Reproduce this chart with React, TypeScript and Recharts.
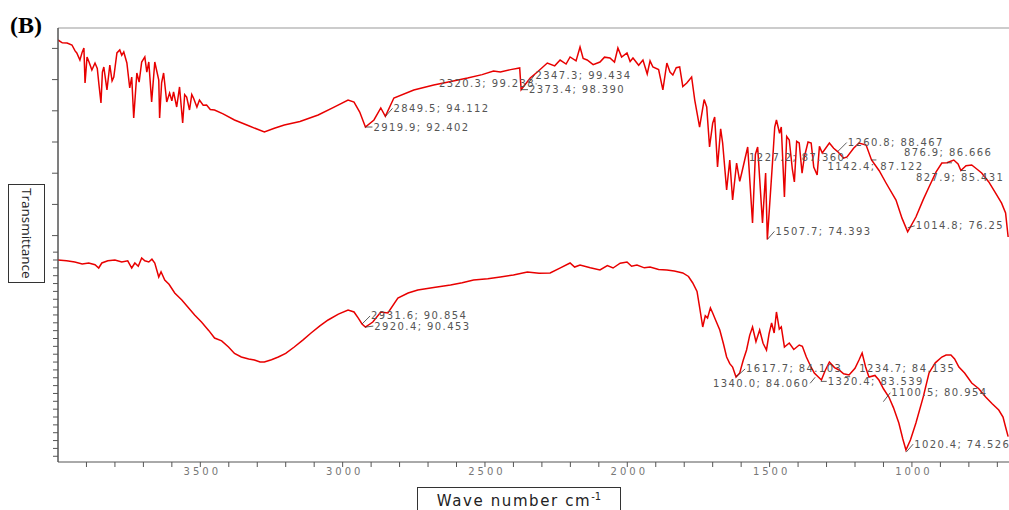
import React from 'react';
import { LineChart, Line, XAxis, YAxis, ReferenceDot, ReferenceLine } from 'recharts';

// [wavenumber cm-1, transmittance %]
const upperSpectrum: [number, number][] = [
  [4000, 106.35], [3985, 105.9], [3968, 105.87], [3951, 105.55], [3940, 104.6], [3934, 104.27],
  [3923, 103.14], [3915, 104.4], [3909, 105.07], [3905, 99.46], [3898, 103.6], [3891, 102.82],
  [3881, 101.54], [3870, 102.66], [3862, 101.8], [3856, 99.14], [3849, 96.25], [3844, 101.2],
  [3839, 102.02], [3828, 98.34], [3818, 102.34], [3810, 99.8], [3804, 100.42], [3793, 104.27],
  [3783, 104.75], [3776, 103.9], [3769, 104.43], [3758, 102.66], [3748, 98.66], [3741, 100.4],
  [3734, 93.85], [3723, 101.06], [3715, 99.6], [3706, 102.82], [3695, 103.63], [3688, 101.2],
  [3681, 102.82], [3671, 96.41], [3660, 102.82], [3646, 99.94], [3643, 93.85], [3636, 99.5],
  [3629, 101.06], [3618, 96.41], [3608, 97.85], [3600, 96.6], [3594, 98.02], [3583, 95.61],
  [3573, 98.82], [3562, 93.05], [3555, 97.6], [3548, 97.21], [3538, 95.13], [3530, 97.6],
  [3524, 97.05], [3512, 95.6], [3503, 96.73], [3490, 95.9], [3478, 95.93], [3465, 95.2],
  [3450, 95.13], [3420, 94.5], [3380, 93.53], [3330, 92.6], [3275, 91.6], [3240, 92.2],
  [3205, 92.73], [3150, 93.3], [3086, 94.33], [3030, 95.6], [2981, 96.73], [2960, 96.41],
  [2940, 94.8], [2920, 92.4], [2890, 93.53], [2866, 95.45], [2850, 94.11], [2820, 97.05],
  [2750, 98.34], [2680, 99.14], [2620, 99.7], [2561, 100.26], [2510, 100.8], [2470, 101.38],
  [2446, 101.22], [2410, 101.6], [2378, 101.86], [2373, 98.39], [2341, 100.26], [2316, 101.22],
  [2281, 102.66], [2255, 102.2], [2236, 103.14], [2215, 102.5], [2201, 103.63], [2180, 103.0],
  [2166, 105.23], [2155, 103.4], [2141, 103.14], [2120, 102.4], [2096, 102.82], [2080, 103.6],
  [2061, 103.47], [2045, 102.8], [2033, 105.07], [2020, 103.6], [2001, 104.27], [1990, 102.9],
  [1980, 103.47], [1960, 102.3], [1945, 103.14], [1930, 100.9], [1920, 103.0], [1910, 102.02],
  [1890, 101.6], [1875, 98.34], [1861, 102.66], [1850, 101.2], [1840, 100.74], [1828, 101.9],
  [1816, 102.02], [1805, 98.9], [1791, 99.46], [1774, 100.42], [1763, 96.73], [1746, 92.4],
  [1730, 96.8], [1721, 95.61], [1711, 89.2], [1700, 93.0], [1693, 94.01], [1683, 85.99],
  [1672, 92.1], [1665, 89.84], [1651, 82.31], [1640, 87.11], [1630, 80.7], [1616, 86.63],
  [1605, 83.7], [1598, 85.03], [1577, 89.2], [1560, 77.02], [1550, 88.0], [1542, 89.2],
  [1525, 77.02], [1514, 85.03], [1508, 74.39], [1490, 86.63], [1482, 92.4], [1476, 93.53],
  [1465, 91.4], [1459, 92.4], [1448, 81.18], [1440, 90.9], [1431, 90.32], [1420, 85.6],
  [1413, 83.59], [1405, 90.1], [1396, 89.84], [1386, 85.0], [1378, 87.6], [1365, 90.0],
  [1354, 89.84], [1345, 86.0], [1333, 84.71], [1325, 89.3], [1315, 88.24], [1290, 89.84],
  [1275, 89.0], [1261, 88.47], [1240, 87.4], [1228, 87.6], [1205, 89.0], [1186, 89.84],
  [1161, 89.52], [1142, 87.12], [1115, 85.4], [1091, 83.43], [1056, 80.7], [1035, 77.8],
  [1015, 75.6], [986, 77.98], [960, 80.8], [940, 82.79], [915, 85.2], [895, 86.63],
  [877, 86.67], [853, 87.11], [838, 86.5], [828, 85.43], [810, 86.2], [790, 86.31],
  [770, 85.6], [755, 85.03], [730, 83.6], [706, 81.82], [685, 80.2], [671, 78.62],
  [662, 74.77],
];

const lowerSpectrum: [number, number][] = [
  [4000, 99.0], [3970, 98.9], [3941, 98.75], [3915, 98.5], [3892, 98.62], [3870, 98.4],
  [3857, 97.98], [3846, 98.62], [3825, 98.9], [3800, 99.0], [3776, 98.75], [3755, 98.9],
  [3741, 97.98], [3730, 98.62], [3718, 98.2], [3706, 99.26], [3695, 98.9], [3681, 98.75],
  [3670, 99.1], [3660, 98.62], [3646, 96.84], [3638, 97.5], [3625, 96.45], [3610, 95.9],
  [3590, 94.8], [3565, 93.9], [3541, 92.89], [3520, 92.0], [3496, 91.1], [3470, 90.0],
  [3450, 89.06], [3425, 88.7], [3401, 87.92], [3380, 87.1], [3356, 86.64], [3330, 86.4],
  [3310, 86.26], [3290, 86.0], [3275, 86.01], [3250, 86.3], [3226, 86.64], [3200, 87.1],
  [3170, 87.92], [3140, 88.8], [3111, 89.7], [3080, 90.6], [3051, 91.36], [3015, 92.1],
  [2981, 92.63], [2960, 92.38], [2945, 91.6], [2932, 90.85], [2920, 90.45], [2894, 91.1],
  [2866, 92.38], [2841, 92.25], [2806, 94.16], [2770, 94.8], [2736, 95.18], [2680, 95.5],
  [2621, 95.82], [2580, 96.1], [2540, 96.45], [2490, 96.6], [2446, 96.84], [2400, 97.1],
  [2351, 97.47], [2310, 97.3], [2271, 97.35], [2235, 98.0], [2201, 98.62], [2185, 98.1],
  [2166, 98.36], [2130, 98.0], [2096, 97.73], [2070, 98.3], [2050, 97.98], [2025, 98.6],
  [2001, 98.75], [1985, 98.2], [1966, 98.36], [1940, 98.0], [1920, 98.11], [1890, 97.8],
  [1861, 97.73], [1835, 97.6], [1805, 97.35], [1785, 96.9], [1770, 96.07], [1755, 95.0],
  [1746, 93.01], [1735, 90.47], [1726, 91.9], [1718, 91.61], [1708, 92.9], [1700, 92.25],
  [1688, 91.2], [1675, 90.08], [1662, 88.3], [1651, 86.64], [1640, 85.8], [1630, 85.37],
  [1618, 84.1], [1605, 84.61], [1593, 86.2], [1581, 87.54], [1570, 89.4], [1560, 90.47],
  [1548, 88.6], [1535, 90.08], [1523, 88.4], [1511, 87.54], [1502, 89.6], [1493, 90.98],
  [1484, 89.7], [1476, 92.38], [1466, 90.2], [1459, 90.47], [1448, 87.92], [1431, 88.43],
  [1415, 87.6], [1396, 88.17], [1385, 88.0], [1371, 86.64], [1355, 85.4], [1343, 84.61],
  [1318, 83.71], [1305, 84.9], [1290, 86.01], [1272, 85.3], [1256, 84.99], [1240, 84.5],
  [1221, 84.35], [1200, 85.2], [1186, 86.26], [1175, 87.15], [1163, 85.4], [1151, 84.1],
  [1130, 84.3], [1116, 83.71], [1100, 82.6], [1081, 81.55], [1065, 80.2], [1046, 78.24],
  [1032, 76.2], [1021, 74.8], [1005, 76.1], [986, 78.24], [960, 81.6], [940, 84.61],
  [918, 85.9], [895, 86.64], [880, 86.9], [863, 86.9], [850, 86.4], [835, 85.37],
  [815, 84.6], [790, 83.33], [765, 82.6], [741, 81.55], [718, 80.7], [695, 79.89],
  [680, 79.0], [671, 77.73], [662, 76.5],
];

// peak labels: wavenumber, transmittance, text
const upperPeaks: [number, number, string][] = [
  [2919.9, 92.402, '2919.9; 92.402'],
  [2849.5, 94.112, '2849.5; 94.112'],
  [2320.3, 99.238, '2320.3; 99.238'],
  [2347.3, 99.434, '2347.3; 99.434'],
  [2373.4, 98.39, '2373.4; 98.390'],
  [1507.7, 74.393, '1507.7; 74.393'],
  [1014.8, 76.25, '1014.8; 76.25'],
  [1260.8, 88.467, '1260.8; 88.467'],
  [1142.4, 87.122, '1142.4; 87.122'],
  [876.9, 86.666, '876.9; 86.666'],
  [827.9, 85.431, '827.9; 85.431'],
  [1227.2, 87.36, '1227.2; 87.360'],
];

const lowerPeaks: [number, number, string][] = [
  [2931.6, 90.854, '2931.6; 90.854'],
  [2920.4, 90.453, '2920.4; 90.453'],
  [1617.7, 84.103, '1617.7; 84.103'],
  [1340.0, 84.06, '1340.0; 84.060'],
  [1320.4, 83.539, '1320.4; 83.539'],
  [1234.7, 84.135, '1234.7; 84.135'],
  [1100.5, 80.954, '1100.5; 80.954'],
  [1020.4, 74.526, '1020.4; 74.526'],
];

// label offsets from the marked point (dx, dy, anchor), same order as the peaks
const upperOffsets: [number, number, 'start' | 'end'][] = [
  [8, 0, 'start'], [8, -8, 'start'], [-1, -1, 'end'], [7, -8, 'start'], [8, 0, 'start'],
  [8, -8, 'start'], [8, -2, 'start'], [10, -9, 'start'], [-44, 7, 'start'], [-43, -10, 'start'],
  [-45, 7, 'start'], [-2, -1, 'end'],
];
const lowerOffsets: [number, number, 'start' | 'end'][] = [
  [9, -8, 'start'], [9, -1, 'start'], [10, -8, 'start'], [-6, 6, 'end'], [7, 0, 'start'],
  [14, -8, 'start'], [8, -9, 'start'], [8, -8, 'start'],
];

const xTicks = [700, 800, 900, 1000, 1100, 1200, 1300, 1400, 1500, 1600, 1700, 1800, 1900, 2000,
  2100, 2200, 2300, 2400, 2500, 2600, 2700, 2800, 2900, 3000, 3100, 3200, 3300, 3400, 3500,
  3600, 3700, 3800, 3900];
const upperTicks = [75, 80, 85, 90, 95, 100, 105];
const lowerTicks = [74, 75, 76, 77, 78, 79, 80, 81, 82, 83, 84, 85, 86, 87, 88, 89, 90, 91, 92,
  93, 94, 95, 96, 97, 98, 99, 100];

const upperData = upperSpectrum.map(([wn, t]) => ({ wn, t }));
const lowerData = lowerSpectrum.map(([wn, t]) => ({ wn, t }));

const RED = '#e80000';
const W = 1009;
const H = 510;

const XTick = (props: any) => {
  const { x, y, payload } = props;
  if (payload.value % 500 !== 0) return <g />;
  return (
    <text x={x + 2} y={y + 2} textAnchor="middle" dominantBaseline="central"
      fontFamily="DejaVu Sans" fontSize={10} letterSpacing={3} fill="#777">
      {payload.value}
    </text>
  );
};

const NoLabel = () => <g />;

const PeakLabel = (props: any) => {
  const { cx, cy, dx, dy, anchor, text } = props;
  if (cx == null || cy == null) return <g />;
  const tx = cx + dx;
  const ty = cy + dy;
  const near = Math.abs(dx) < 12;
  const lx = near ? (anchor === 'end' ? tx + 1 : tx - 1) : cx + (anchor === 'end' ? -5 : 5);
  const ly = near ? ty : cy;
  return (
    <g>
      <line x1={cx} y1={cy} x2={lx} y2={ly} stroke="#333" strokeWidth={0.8} />
      <text x={tx} y={ty} textAnchor={anchor} dominantBaseline="central" fontFamily="DejaVu Sans"
        fontSize={10} letterSpacing={1.4} fill="#555">
        {text}
      </text>
    </g>
  );
};

const layer: React.CSSProperties = { position: 'absolute', left: 0, top: 0 };

export default function App() {
  return (
    <div style={{ position: 'absolute', left: 0, top: 0, width: W, height: H, background: '#fff', overflow: 'hidden' }}>
      {/* upper spectrum, wavenumber axis and frame */}
      <div style={layer}>
        <LineChart width={W} height={H} data={upperData} margin={{ top: 28, right: 0, bottom: 18, left: 52 }}>
          <XAxis dataKey="wn" type="number" domain={[659, 4000]} reversed allowDataOverflow
            ticks={xTicks} interval={0} tickSize={5} height={30} tick={<XTick />} stroke="#555" />
          <YAxis yAxisId="upper" type="number" domain={[38.72, 108.27]}
            ticks={upperTicks} interval={0} tick={NoLabel} tickSize={6} width={6} stroke="#555" />
          <ReferenceLine yAxisId="upper" y={108.27} stroke="#999" strokeWidth={1.2} />
          <Line yAxisId="upper" dataKey="t" type="linear" stroke={RED}
            strokeWidth={1.5} dot={false} isAnimationActive={false} />
          {upperPeaks.map(([wn, t, text], i) => (
            <ReferenceDot key={`u${i}`} yAxisId="upper" x={wn} y={t} r={0}
              shape={(p: any) => <PeakLabel {...p} dx={upperOffsets[i][0]} dy={upperOffsets[i][1]}
                anchor={upperOffsets[i][2]} text={text} />} />
          ))}
        </LineChart>
      </div>

      {/* lower spectrum on its own transmittance scale */}
      <div style={layer}>
        <LineChart width={W} height={H} data={lowerData} margin={{ top: 28, right: 0, bottom: 48, left: 52 }}>
          <XAxis dataKey="wn" type="number" domain={[659, 4000]} reversed allowDataOverflow hide />
          <YAxis yAxisId="lower" type="number" domain={[73.27, 128.55]}
            ticks={lowerTicks} interval={0} tick={NoLabel} tickSize={5} width={6} stroke="#555" />
          <Line yAxisId="lower" dataKey="t" type="linear" stroke={RED}
            strokeWidth={1.5} dot={false} isAnimationActive={false} />
          {lowerPeaks.map(([wn, t, text], i) => (
            <ReferenceDot key={`l${i}`} yAxisId="lower" x={wn} y={t} r={0}
              shape={(p: any) => <PeakLabel {...p} dx={lowerOffsets[i][0]} dy={lowerOffsets[i][1]}
                anchor={lowerOffsets[i][2]} text={text} />} />
          ))}
        </LineChart>
      </div>

      <div style={{ position: 'absolute', left: 10, top: 12, fontFamily: 'Liberation Serif', fontWeight: 'bold', fontSize: 24, color: '#000' }}>
        (B)
      </div>

      <div style={{ position: 'absolute', left: 8, top: 184, width: 35, height: 97, border: '1px solid #333',
        display: 'flex', alignItems: 'center', justifyContent: 'center', background: '#fff' }}>
        <span style={{ writingMode: 'vertical-rl', fontFamily: 'Open Sans', fontSize: 13.5, color: '#222' }}>
          Transmittance
        </span>
      </div>

      <div style={{ position: 'absolute', left: 417, top: 487, width: 202, height: 40, border: '1px solid #333',
        background: '#fff', textAlign: 'center' }}>
        <span style={{ position: 'relative', top: 3, fontFamily: 'DejaVu Sans', fontSize: 15, letterSpacing: 1.6, color: '#222' }}>
          Wave number cm<sup style={{ fontSize: 10, letterSpacing: 0 }}>-1</sup>
        </span>
      </div>
    </div>
  );
}
